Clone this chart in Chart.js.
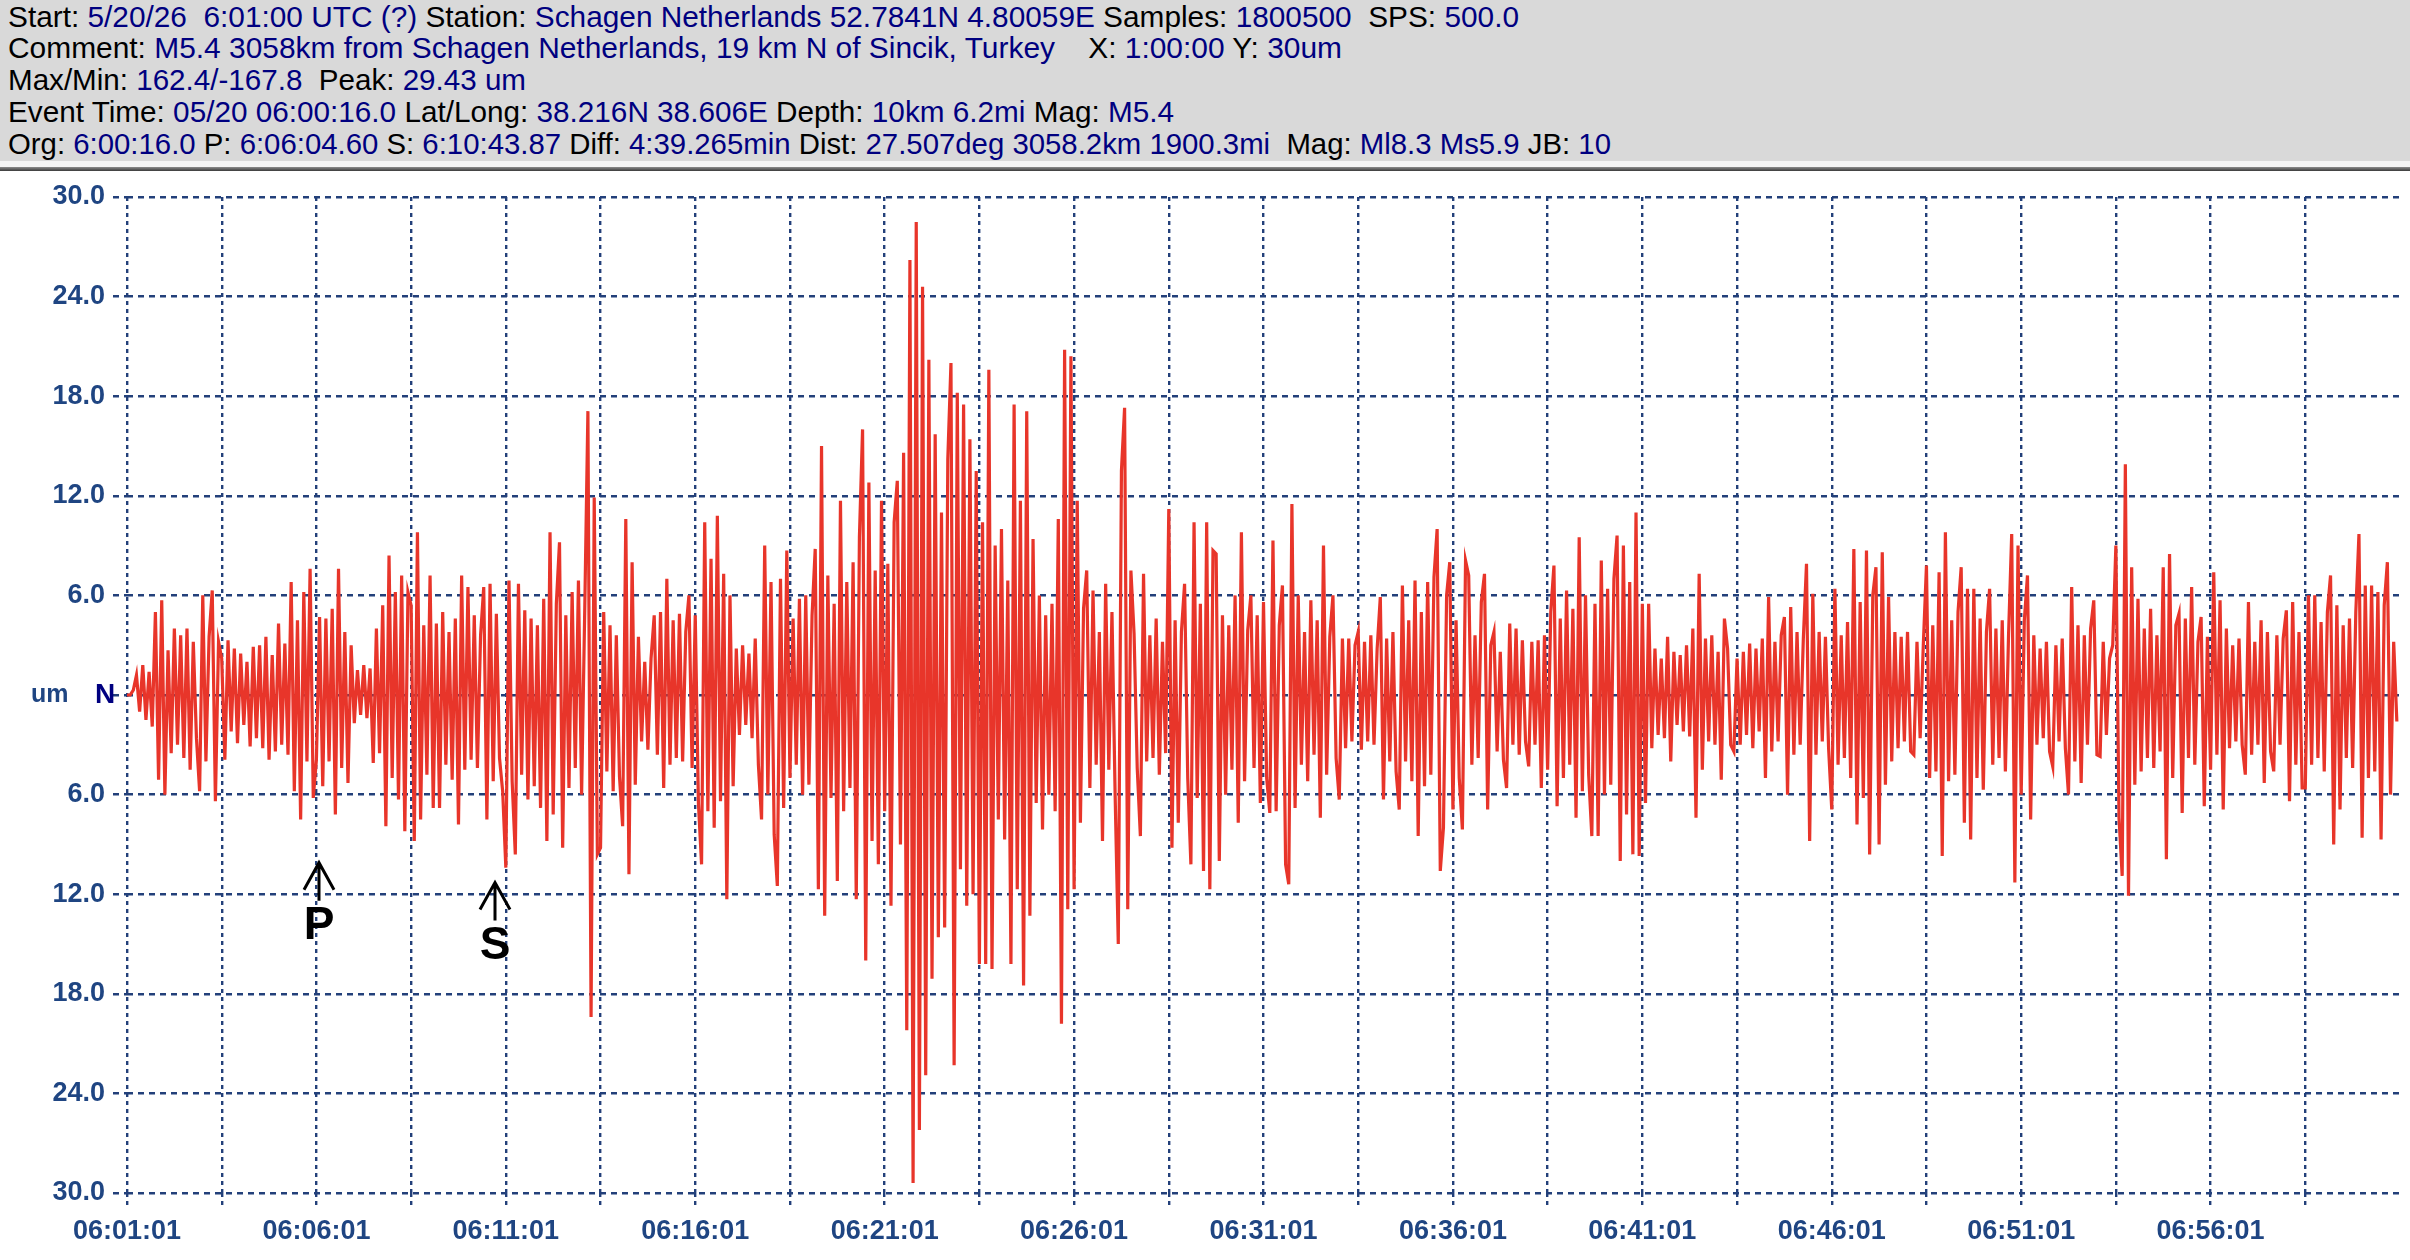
<!DOCTYPE html>
<html>
<head>
<meta charset="utf-8">
<title>Schagen Netherlands - M5.4 Sincik, Turkey</title>
<script src="https://cdn.jsdelivr.net/npm/chart.js@4.4.1/dist/chart.umd.min.js"></script>
<style>
  html, body { margin: 0; padding: 0; background: #fff; }
  body { width: 2410px; height: 1260px; position: relative; overflow: hidden;
         font-family: "Liberation Sans", Arial, sans-serif; }
  #header { position: absolute; left: 0; top: 0; width: 2410px; height: 161px; background: #d9d9d9; }
  #header .line { position: absolute; left: 8px; white-space: pre; font-size: 29px; line-height: 32px;
                  color: #000; transform-origin: 0 50%; }
  #header .v { color: #000080; }
  #sep1 { position: absolute; left: 0; top: 161px; width: 2410px; height: 6px; background: #f4f4f4; }
  #sep2 { position: absolute; left: 0; top: 167px; width: 2410px; height: 4px; background: linear-gradient(#8c8c8c, #3a3a3a); }
  #wrap { position: absolute; left: 0; top: 171px; width: 2410px; height: 1089px; }
</style>
</head>
<body>
<div id="header">
  <div class="line" style="top:1px">Start: <span class="v">5/20/26  6:01:00 UTC (?)</span> Station: <span class="v">Schagen Netherlands 52.7841N 4.80059E</span> Samples: <span class="v">1800500</span>  SPS: <span class="v">500.0</span></div>
  <div class="line" style="top:32px">Comment: <span class="v">M5.4 3058km from Schagen Netherlands, 19 km N of Sincik, Turkey</span>    X: <span class="v">1:00:00</span> Y: <span class="v">30um</span></div>
  <div class="line" style="top:64px">Max/Min: <span class="v">162.4/-167.8</span>  Peak: <span class="v">29.43 um</span></div>
  <div class="line" style="top:96px">Event Time: <span class="v">05/20 06:00:16.0</span> Lat/Long: <span class="v">38.216N 38.606E</span> Depth: <span class="v">10km 6.2mi</span> Mag: <span class="v">M5.4</span></div>
  <div class="line" style="top:128px">Org: <span class="v">6:00:16.0</span> P: <span class="v">6:06:04.60</span> S: <span class="v">6:10:43.87</span> Diff: <span class="v">4:39.265min</span> Dist: <span class="v">27.507deg 3058.2km 1900.3mi</span>  Mag: <span class="v">Ml8.3 Ms5.9</span> JB: <span class="v">10</span></div>
</div>
<div id="sep1"></div>
<div id="sep2"></div>
<div id="wrap"><canvas id="seismo" width="2410" height="1089"></canvas></div>

<script>
const um_0601 = [0, 0, 0.3, 1.2, -1.0, 1.8, -1.5, 1.4, -1.9, 5.0, -5.1, 5.7, -6.0, 2.7, -3.5, 4.0, -3.0, 3.6, -3.8, 4.0, -4.5, 3.2, -2.6, -5.8, 6.0, -4.0, 3.5, 6.3, -6.4, 3.2,
                 2.2, -3.9, 3.3, -2.2, 2.8, -2.9, 2.5, -1.8, 2.0, -3.1, 2.9, -2.6, 3.0, -3.2, 3.5, -3.9, 2.4, -3.4, 4.3, -3.0, 3.1, -3.6, 6.8, -5.8, 4.5, -7.5, 6.2, -4.0, 7.6, -6.2];
const um_0606 = [-3.9, 4.7, -5.5, 4.6, -4.0, 5.2, -7.2, 7.6, -4.4, 3.8, -5.3, 3.0, -1.7, 1.5, -1.2, 1.8, -1.4, 1.6, -4.1, 4.0, -3.5, 5.4, -7.9, 8.4, -5.0, 6.2, -6.3, 7.2, -8.2, 6.2,
                 5.4, -8.8, 9.8, -7.5, 4.2, -4.8, 7.2, -6.8, 4.3, -6.8, 5.0, -4.2, 3.8, -5.1, 4.6, -7.8, 7.2, -4.5, 6.5, -3.9, 4.8, -4.4, 3.6, 6.5, -7.5, 6.7, -5.2, 4.9, -3.8, -5.8];
const um_0611 = [-10.4, 6.9, -5.2, -9.6, 6.7, -4.8, 5.1, -6.3, 4.6, -5.5, 4.2, -6.8, 5.8, -8.8, 9.8, -7.2, 5.5, 9.2, -9.2, 4.8, -5.6, 6.2, -4.4, 6.9, -6.0, 5.2, 17.1, -19.4, 11.9, -9.6,
                 -9.2, 5.0, -4.6, 4.2, -5.8, 3.6, -4.9, -7.9, 10.6, -10.8, 8.0, -5.4, 3.5, -2.8, 2.0, -3.3, 2.2, 4.8, -3.6, 5.0, -5.6, 7.0, -4.2, 4.5, -3.8, 4.9, -4.0, 3.8, 6.0, -4.4];
const um_0616 = [4.8, -6.5, -10.2, 10.4, -7.0, 8.2, -8.0, 10.8, -6.4, 7.3, -12.3, 6.0, -5.5, 2.8, -2.4, 3.0, -1.8, 2.5, -2.6, 3.4, -4.2, -7.5, 9.0, -6.0, 6.8, -8.4, -11.5, 7.0, -6.8, 8.7,
                 -5.0, 4.6, -4.2, 5.8, -6.0, 6.0, -5.4, 4.8, 8.8, -11.7, 15.0, -13.3, 7.2, -6.2, 5.5, -11.2, 11.7, -7.0, 6.8, -5.6, 8.0, -12.3, 9.5, 16.0, -16.0, 12.8, -8.8, 7.5, -10.2, 11.7];
const um_0621 = [-7.0, 7.9, -12.7, 10.4, 12.9, -9.0, 14.6, -20.2, 26.2, -29.4, 28.5, -26.2, 24.6, -22.9, 20.2, -17.1, 15.7, -14.6, 11.0, -14.0, 14.2, 20.0, -22.3, 18.2, -10.5, 17.5, -12.7, 15.4, -12.0, 13.5,
                 -16.2, 10.4, -16.2, 19.6, -16.5, 9.0, -7.5, 10.0, -8.7, 6.9, -16.2, 17.5, -11.7, 11.7, -17.5, 17.1, -13.3, 9.4, -6.5, 6.0, -8.1, 4.8, -6.0, 5.5, -7.0, 10.6, -19.8, 20.8, -12.9, 20.4];
const um_0626 = [-11.7, 11.7, -7.7, 5.2, 7.5, -5.6, 6.3, -4.2, 3.8, -8.8, 6.7, -4.5, 5.0, -6.0, -15.0, 13.5, 17.3, -12.9, 7.5, 3.7, -4.4, -8.5, 7.3, -4.0, 3.6, -3.8, 4.6, -4.8, 3.2, -3.5,
                 11.2, -9.2, 4.5, -7.7, 3.8, 6.7, -5.0, -10.2, 10.4, -6.2, 5.5, -10.6, 10.4, -11.7, 8.7, 8.5, -10.0, 4.8, -6.0, 4.2, -4.5, 6.0, -7.7, 9.8, -5.2, 3.9, 6.0, -4.4, 4.8, -6.5];
const um_0631 = [5.6, -5.0, -7.1, 9.3, -7.0, 4.2, 6.6, -10.2, -11.4, 11.5, -6.8, 6.0, -4.2, 3.8, -5.2, 5.7, -3.6, 4.5, -7.4, 9.0, -4.8, 3.5, 6.0, -3.8, -6.3, 3.4, -3.2, 3.4, -2.8, 3.0,
                 3.8, -3.3, 3.2, -2.8, 3.6, -3.0, 2.8, 5.9, -6.3, 3.4, -4.0, 3.8, -4.6, -6.9, 6.6, -4.0, 4.5, -5.2, 6.9, -8.5, 5.0, -5.5, 6.8, -4.8, 7.1, 10.0, -10.6, -8.0, 6.0, 8.0];
const um_0636 = [-6.9, 4.5, -5.0, -8.1, 8.1, 7.2, -4.2, 3.6, -3.8, 5.6, 7.3, -6.9, 3.0, 3.8, -3.4, 2.6, -3.9, -5.6, 4.3, -3.0, 4.0, -3.6, 3.3, -2.8, -4.3, 3.2, -3.0, 3.3, -5.6, 3.6,
                 -4.5, 5.0, 7.8, -6.7, 4.6, -5.0, 6.3, -4.2, 5.2, -7.4, 9.5, -5.8, 6.0, -4.8, -8.5, 5.5, -8.5, 8.1, -6.0, 6.4, -5.4, 7.0, 9.6, -10.0, 9.0, -7.2, 6.8, -9.6, 11.0, -9.7];
const um_0641 = [5.5, -6.5, 5.5, -3.2, 2.8, -2.4, 2.2, -2.6, 3.5, -4.0, 2.6, -1.8, 2.4, -2.2, 3.0, -2.5, 4.0, -7.4, 7.3, -4.5, 3.4, -2.8, 3.6, -3.0, 2.6, -5.1, 4.6, 2.8, -3.0, -3.4,
                 2.2, -3.0, 2.6, -2.4, 3.1, -3.2, 2.8, -2.2, 3.4, -5.0, 5.9, -3.4, 3.2, -2.8, 3.6, 4.7, -6.0, 5.3, -3.6, 3.8, -3.0, 3.4, 7.9, -8.8, 6.1, -3.6, 3.8, -2.8, 3.5, -3.2];
const um_0646 = [-6.9, 6.4, -4.2, 3.6, -3.8, 4.4, -5.0, 8.8, -7.8, 5.6, -6.2, 8.7, -9.6, 6.0, 7.7, -9.0, 8.6, -5.4, 5.9, -4.0, 3.8, -3.2, 3.5, -2.8, 3.8, -3.4, -3.6, 3.2, -2.6, 3.0,
                 7.8, -5.0, 4.2, -4.6, 7.4, -9.7, 9.8, -5.2, 4.5, -4.8, 5.0, 7.7, -7.7, 6.4, -8.7, 6.4, -5.0, 4.6, -5.7, 3.8, 6.4, -4.2, 4.0, -3.8, 4.5, -4.6, 3.6, 9.7, -11.3, 9.0];
const um_0651 = [-6.0, 4.5, 7.2, -7.5, 3.6, -3.0, 2.8, -2.6, 3.2, -3.4, -4.3, 3.0, -2.8, 3.4, -3.2, -6.0, 6.5, -4.0, 4.2, -5.3, 3.6, -3.0, 4.0, 5.7, -3.6, -3.7, 3.2, -2.4, 2.2, 3.0,
                 9.0, -7.4, -10.9, 13.9, -12.1, 7.7, -5.4, 5.8, -4.6, 4.0, -3.8, 5.2, -4.4, 3.6, -3.4, 7.7, -9.9, 8.5, -5.0, 4.2, 4.9, -7.1, 4.6, -3.8, 6.5, -4.2, 3.2, 4.7, -6.7, 3.5];
const um_0656 = [-4.5, 7.4, -3.6, 5.7, -6.9, 4.0, -3.2, 3.0, -2.8, 3.4, -3.0, -4.8, 5.6, -3.6, 3.2, -3.0, 4.5, -5.3, 3.8, -3.4, -4.6, 3.6, -3.0, 3.4, 5.1, -6.4, 5.6, -4.2, 3.8, -5.6,
                 -5.6, 6.0, -4.2, 6.0, -3.8, 4.4, -4.6, 5.0, 7.2, -9.0, 5.4, -6.9, 4.2, -3.8, 4.6, -4.4, 5.0, 9.7, -8.6, 6.6, -5.0, 6.6, -4.6, 6.2, -8.7, 5.4, 8.0, -6.0, 3.2, -1.6];

const sampleStep = 5;      // seconds between listed values
const windowLength = 3600; // X: 1:00:00
const timeLabels = ['06:01:01', '06:06:01', '06:11:01', '06:16:01', '06:21:01', '06:26:01',
                    '06:31:01', '06:36:01', '06:41:01', '06:46:01', '06:51:01', '06:56:01'];
const yLimit = 30;   // Y: 30um
const yStep = 6;

// phase picks, seconds after 06:01:01 (P 6:06:04.60, S 6:10:43.87)
const phaseNames = ['P', 'S'];
const phaseTimes = [303.6, 582.9];
const phaseTipUm = [-10.1, -11.3];

const unitLabel = 'um';
const componentLabel = 'N';

// squeeze header lines to the width of the original bitmap font
const headerWidths = [1511, 1334, 518, 1166, 1603];
document.querySelectorAll('#header .line').forEach(function(el, i) {
    const w = el.getBoundingClientRect().width;
    el.style.transform = 'scaleX(' + (headerWidths[i] / w) + ')';
});

const trace = [].concat(um_0601, um_0606, um_0611, um_0616, um_0621, um_0626,
                        um_0631, um_0636, um_0641, um_0646, um_0651, um_0656);
const tracePoints = trace.map(function(v, i) { return {x: i * sampleStep, y: v}; });

const gridBlue = '#23407a';
const labelBlue = '#1f4582';
const labelFont = {family: '"Liberation Sans", Arial, sans-serif', size: 27, weight: 'bold'};

const overlay = {
    id: 'overlay',
    afterDatasetsDraw(chart) {
        const ctx = chart.ctx;
        const x = chart.scales.x;
        const y = chart.scales.y;
        ctx.save();
        // unit and component at the zero line
        const y0 = y.getPixelForValue(0);
        ctx.textBaseline = 'middle';
        ctx.textAlign = 'left';
        ctx.font = 'bold 25px "Liberation Sans", Arial, sans-serif';
        ctx.fillStyle = labelBlue;
        ctx.fillText(unitLabel, 31, y0);
        ctx.font = 'bold 28px "Liberation Sans", Arial, sans-serif';
        ctx.fillStyle = '#000080';
        ctx.fillText(componentLabel, 95, y0);
        // P and S arrows
        ctx.strokeStyle = '#000';
        ctx.fillStyle = '#000';
        ctx.lineWidth = 3;
        ctx.font = 'bold 46px "Liberation Sans", Arial, sans-serif';
        ctx.textAlign = 'center';
        ctx.textBaseline = 'alphabetic';
        for (let i = 0; i < phaseNames.length; i++) {
            const px = Math.round(x.getPixelForValue(phaseTimes[i]));
            const py = y.getPixelForValue(phaseTipUm[i]);
            ctx.beginPath();
            ctx.moveTo(px, py);
            ctx.lineTo(px, py + 38);
            ctx.moveTo(px - 15, py + 27);
            ctx.lineTo(px, py);
            ctx.lineTo(px + 15, py + 27);
            ctx.stroke();
            ctx.fillText(phaseNames[i], px, py + 76);
        }
        ctx.restore();
    }
};

const seismoChart = new Chart(document.getElementById('seismo'), {
    type: 'line',
    data: {
        datasets: [{
            label: 'N',
            data: tracePoints,
            borderColor: '#e8352a',
            borderWidth: 3.2,
            borderJoinStyle: 'miter',
            pointRadius: 0,
            tension: 0,
            fill: false
        }]
    },
    options: {
        responsive: false,
        devicePixelRatio: 1,
        animation: false,
        events: [],
        layout: {padding: {top: 26, right: 3, left: 0, bottom: 0}},
        plugins: {legend: {display: false}, tooltip: {enabled: false}},
        scales: {
            x: {
                type: 'linear',
                min: 0,
                max: windowLength,
                afterFit: function(scale) { scale.height = 67; },
                border: {display: false, dash: [4, 4]},
                grid: {
                    color: function(c) { return c.tick && c.tick.value >= windowLength ? 'rgba(0,0,0,0)' : gridBlue; },
                    tickColor: function(c) { return c.tick && c.tick.value >= windowLength ? 'rgba(0,0,0,0)' : gridBlue; },
                    lineWidth: 2.4,
                    tickWidth: 2.4,
                    tickLength: 12,
                    tickBorderDash: [4, 4]
                },
                ticks: {
                    stepSize: 150,
                    autoSkip: false,
                    maxRotation: 0,
                    padding: 10,
                    color: labelBlue,
                    font: labelFont,
                    callback: function(v) {
                        if (v % 300 !== 0 || v >= windowLength) return '';
                        return timeLabels[v / 300];
                    }
                }
            },
            y: {
                min: -yLimit,
                max: yLimit,
                afterFit: function(scale) { scale.width = 127; },
                border: {display: false, dash: [6, 5]},
                grid: {
                    color: gridBlue,
                    tickColor: gridBlue,
                    lineWidth: 2.4,
                    tickWidth: 2.4,
                    tickLength: 14,
                    tickBorderDash: [6, 5]
                },
                ticks: {
                    stepSize: yStep,
                    padding: 8,
                    color: labelBlue,
                    font: labelFont,
                    callback: function(v) { return v === 0 ? '' : Math.abs(v).toFixed(1); }
                }
            }
        }
    },
    plugins: [overlay]
});
</script>
</body>
</html>
